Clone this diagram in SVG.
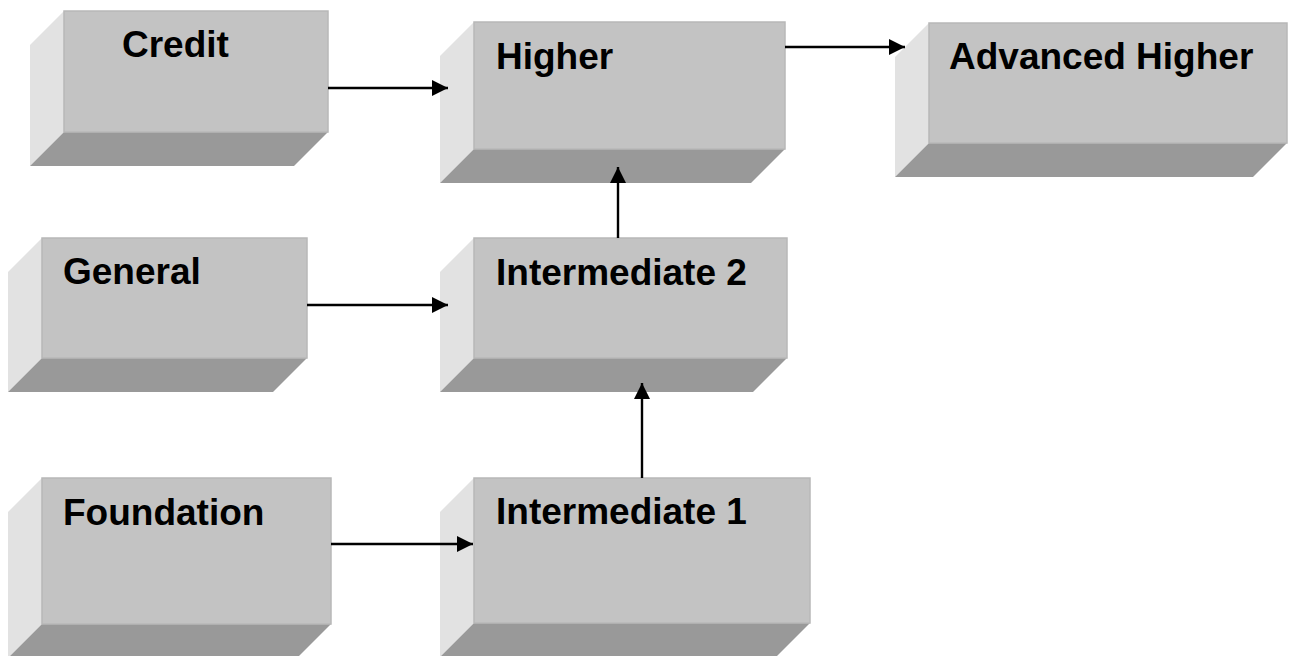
<svg xmlns="http://www.w3.org/2000/svg" width="1294" height="656" viewBox="0 0 1294 656">
<style>
.front{fill:#c3c3c3;stroke:#b8b8b8;stroke-width:1.5}
.side{fill:#e2e2e2}
.bottom{fill:#999999}
.lbl{font-family:"Liberation Sans",Arial,sans-serif;font-weight:bold;font-size:37px;fill:#000}
.conn{stroke:#000;stroke-width:2.4;fill:none;marker-end:url(#ah)}
</style>
<defs>
<marker id="ah" markerUnits="userSpaceOnUse" markerWidth="17" markerHeight="16" refX="16" refY="8" orient="auto">
<path d="M0,0 L16,8 L0,16 z" fill="#000"/>
</marker>
</defs>
<rect width="1294" height="656" fill="#fff"/>
<g id="credit">
<polygon class="side" points="30,45 64,11 64,132 30,166"/>
<polygon class="bottom" points="64,132 328,132 294,166 30,166"/>
<rect class="front" x="64" y="11" width="264" height="121"/>
<text class="lbl" x="122" y="57">Credit</text>
</g>
<g id="higher">
<polygon class="side" points="440,56 474,22 474,149 440,183"/>
<polygon class="bottom" points="474,149 785,149 751,183 440,183"/>
<rect class="front" x="474" y="22" width="311" height="127"/>
<text class="lbl" x="496" y="69">Higher</text>
</g>
<g id="advanced-higher">
<polygon class="side" points="895,57 929,23 929,143 895,177"/>
<polygon class="bottom" points="929,143 1287,143 1253,177 895,177"/>
<rect class="front" x="929" y="23" width="358" height="120"/>
<text class="lbl" x="949" y="69">Advanced Higher</text>
</g>
<g id="general">
<polygon class="side" points="8,272 42,238 42,358 8,392"/>
<polygon class="bottom" points="42,358 307,358 273,392 8,392"/>
<rect class="front" x="42" y="238" width="265" height="120"/>
<text class="lbl" x="63" y="284">General</text>
</g>
<g id="intermediate-2">
<polygon class="side" points="440,272 474,238 474,358 440,392"/>
<polygon class="bottom" points="474,358 787,358 753,392 440,392"/>
<rect class="front" x="474" y="238" width="313" height="120"/>
<text class="lbl" x="496" y="285">Intermediate 2</text>
</g>
<g id="foundation">
<polygon class="side" points="8,512 42,478 42,624 8,658"/>
<polygon class="bottom" points="42,624 331,624 297,658 8,658"/>
<rect class="front" x="42" y="478" width="289" height="146"/>
<text class="lbl" x="63" y="525">Foundation</text>
</g>
<g id="intermediate-1">
<polygon class="side" points="440,512 474,478 474,623 440,657"/>
<polygon class="bottom" points="474,623 810,623 776,657 440,657"/>
<rect class="front" x="474" y="478" width="336" height="145"/>
<text class="lbl" x="496" y="524">Intermediate 1</text>
</g>
<g id="connectors">
<line class="conn" x1="328" y1="88" x2="448" y2="88"/>
<line class="conn" x1="785" y1="47" x2="905" y2="47"/>
<line class="conn" x1="307" y1="305" x2="448" y2="305"/>
<line class="conn" x1="331" y1="544" x2="473" y2="544"/>
<line class="conn" x1="618" y1="238" x2="618" y2="167"/>
<line class="conn" x1="642" y1="478" x2="642" y2="383"/>
</g>
</svg>
